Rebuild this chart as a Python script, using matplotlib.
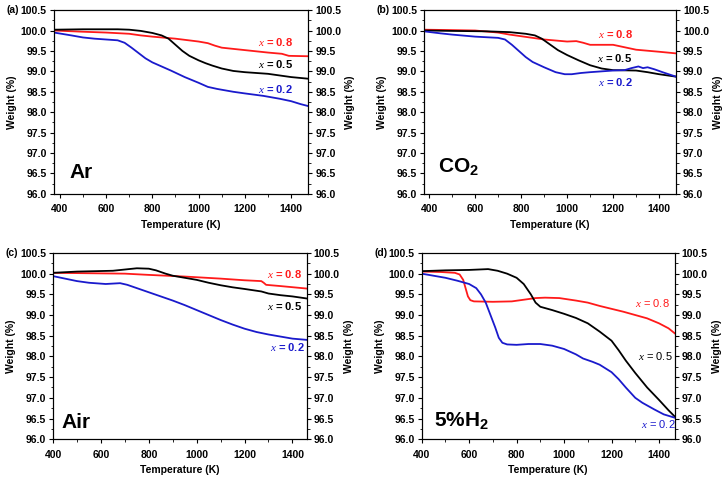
import numpy as np
import matplotlib

matplotlib.use("Agg")
import matplotlib.pyplot as plt
from matplotlib.ticker import MultipleLocator, FormatStrFormatter

plt.rcParams["font.family"] = ["Liberation Sans", "DejaVu Sans"]
plt.rcParams["mathtext.fontset"] = "custom"
plt.rcParams["mathtext.rm"] = "Liberation Sans"
plt.rcParams["mathtext.it"] = "Liberation Serif:italic"
plt.rcParams["mathtext.bf"] = "Liberation Sans:bold"

RED, BLACK, BLUE = "#ff1a1a", "#000000", "#1a1acc"

# ---------------------------------------------------------------- (a) Ar
ar_t08 = [375, 500, 600, 700, 750, 800, 900, 1000, 1040, 1070, 1100, 1150, 1200, 1300, 1360, 1390, 1474]
ar_w08 = [100.0, 99.97, 99.95, 99.92, 99.88, 99.85, 99.8, 99.73, 99.69, 99.63, 99.58, 99.55, 99.52, 99.46, 99.43, 99.38, 99.37]
ar_t05 = [375, 500, 650, 700, 750, 800, 840, 870, 900, 930, 960, 1000, 1030, 1060, 1100, 1150, 1200, 1300, 1400, 1474]
ar_w05 = [100.02, 100.03, 100.03, 100.02, 99.99, 99.94, 99.88, 99.8, 99.65, 99.5, 99.38, 99.27, 99.2, 99.14, 99.07, 99.01, 98.98, 98.94, 98.86, 98.82]
ar_t02 = [375, 450, 500, 550, 600, 650, 680, 710, 740, 770, 800, 840, 880, 940, 1000, 1040, 1080, 1150, 1200, 1280, 1350, 1400, 1440, 1474]
ar_w02 = [99.95, 99.88, 99.83, 99.8, 99.78, 99.76, 99.7, 99.58, 99.45, 99.32, 99.22, 99.12, 99.02, 98.86, 98.72, 98.62, 98.57, 98.5, 98.46, 98.4, 98.33, 98.27, 98.2, 98.15]

# ---------------------------------------------------------------- (b) CO2
co2_t08 = [377, 500, 600, 700, 750, 800, 900, 1000, 1040, 1070, 1100, 1200, 1250, 1300, 1400, 1474]
co2_w08 = [100.02, 100.01, 100.0, 99.95, 99.9, 99.86, 99.78, 99.73, 99.74, 99.7, 99.65, 99.65, 99.59, 99.53, 99.48, 99.44]
co2_t05 = [377, 500, 650, 750, 820, 860, 890, 920, 960, 1000, 1050, 1100, 1150, 1200, 1300, 1350, 1400, 1474]
co2_w05 = [100.0, 99.99, 99.98, 99.96, 99.92, 99.88, 99.8, 99.68, 99.52, 99.4, 99.27, 99.15, 99.07, 99.03, 99.02, 98.98, 98.93, 98.87]
co2_t02 = [377, 450, 500, 600, 700, 730, 760, 790, 820, 850, 900, 950, 990, 1020, 1060, 1100, 1150, 1200, 1250, 1280, 1310, 1330, 1350, 1380, 1420, 1474]
co2_w02 = [99.98, 99.93, 99.9, 99.85, 99.82, 99.78, 99.65, 99.5, 99.35, 99.23, 99.1, 98.98, 98.93, 98.93, 98.96, 98.98, 99.0, 99.02, 99.03, 99.08, 99.12, 99.08, 99.1, 99.05, 98.97, 98.87]

# ---------------------------------------------------------------- (c) Air
air_t08 = [400, 550, 700, 800, 950, 1100, 1200, 1270, 1280, 1290, 1350, 1460]
air_w08 = [100.02, 100.01, 100.0, 99.97, 99.93, 99.88, 99.84, 99.82, 99.78, 99.73, 99.7, 99.64]
air_t05 = [400, 500, 650, 700, 750, 800, 830, 870, 900, 950, 1000, 1050, 1100, 1150, 1200, 1270, 1300, 1350, 1400, 1460]
air_w05 = [100.02, 100.05, 100.07, 100.1, 100.13, 100.12, 100.08, 100.0, 99.95, 99.9, 99.85, 99.78, 99.72, 99.67, 99.63, 99.57, 99.52, 99.48, 99.45, 99.4]
air_t02 = [400, 450, 500, 550, 620, 680, 710, 750, 800, 850, 900, 950, 1000, 1050, 1100, 1150, 1200, 1250, 1300, 1350, 1400, 1460]
air_w02 = [99.94, 99.88, 99.82, 99.78, 99.75, 99.77, 99.73, 99.65, 99.55, 99.45, 99.35, 99.24, 99.12, 99.0, 98.88, 98.77, 98.67, 98.59, 98.53, 98.48, 98.43, 98.4]

# ---------------------------------------------------------------- (d) 5%H2
h2_t08 = [400, 480, 540, 560, 575, 585, 595, 605, 620, 700, 780, 830, 880, 920, 980, 1050, 1100, 1150, 1200, 1250, 1300, 1350, 1400, 1440, 1466]
h2_w08 = [100.05, 100.04, 100.02, 99.98, 99.85, 99.65, 99.45, 99.36, 99.33, 99.32, 99.33, 99.37, 99.41, 99.42, 99.41, 99.35, 99.3, 99.22, 99.15, 99.08, 99.0, 98.92, 98.8, 98.68, 98.56]
h2_t05 = [400, 500, 600, 680, 720, 760, 800, 830, 860, 880, 900, 950, 1000, 1050, 1100, 1150, 1200, 1230, 1260, 1300, 1350, 1400, 1440, 1466]
h2_w05 = [100.06, 100.08, 100.09, 100.11, 100.07, 100.0, 99.9, 99.75, 99.5, 99.3, 99.2, 99.12, 99.03, 98.93, 98.8, 98.6, 98.38, 98.15, 97.9, 97.6, 97.25, 96.95, 96.7, 96.55]
h2_t02 = [400, 450, 500, 550, 600, 630, 650, 670, 690, 710, 725, 740, 760, 800, 850, 900, 950, 1000, 1050, 1080, 1120, 1150, 1200, 1230, 1260, 1300, 1330, 1380, 1420, 1466]
h2_w02 = [100.0, 99.95, 99.9, 99.83, 99.75, 99.65, 99.5, 99.3, 99.0, 98.7, 98.45, 98.33, 98.29, 98.28, 98.3, 98.3, 98.26, 98.18, 98.05, 97.95, 97.87, 97.8, 97.62, 97.45, 97.25, 97.0, 96.88, 96.72, 96.6, 96.52]

x_values = ["0.8", "0.5", "0.2"]

panels = [
    dict(tag="(a)", gas="Ar", gas_pos=(0.06, 0.115), xlim=(374, 1474), rect=[0.074, 0.596, 0.350, 0.383],
         series=[(ar_t08, ar_w08, RED), (ar_t05, ar_w05, BLACK), (ar_t02, ar_w02, BLUE)],
         labels=[(1257, 99.73), (1257, 99.18), (1257, 98.56)], bold=True),
    dict(tag="(b)", gas=r"CO$_\mathbf{2}$", gas_pos=(0.055, 0.15), xlim=(377, 1474), rect=[0.583, 0.596, 0.347, 0.383],
         series=[(co2_t08, co2_w08, RED), (co2_t05, co2_w05, BLACK), (co2_t02, co2_w02, BLUE)],
         labels=[(1134, 99.91), (1130, 99.33), (1134, 98.75)], bold=True),
    dict(tag="(c)", gas="Air", gas_pos=(0.035, 0.09), xlim=(400, 1460), rect=[0.073, 0.085, 0.349, 0.388],
         series=[(air_t08, air_w08, RED), (air_t05, air_w05, BLACK), (air_t02, air_w02, BLUE)],
         labels=[(1295, 99.99), (1295, 99.23), (1305, 98.22)], bold=True),
    dict(tag="(d)", gas=r"5%H$_\mathbf{2}$", gas_pos=(0.05, 0.10), xlim=(400, 1466), rect=[0.580, 0.085, 0.348, 0.388],
         series=[(h2_t08, h2_w08, RED), (h2_t05, h2_w05, BLACK), (h2_t02, h2_w02, BLUE)],
         labels=[(1297, 99.29), (1312, 98.02), (1326, 96.37)], bold=False),
]

fig = plt.figure(figsize=(7.27, 4.80), dpi=100)
FS = 7.5


def style_y(a):
    a.set_ylim(96.0, 100.5)
    a.yaxis.set_major_locator(MultipleLocator(0.5))
    a.yaxis.set_minor_locator(MultipleLocator(0.25))
    a.yaxis.set_major_formatter(FormatStrFormatter("%.1f"))
    a.set_ylabel("Weight (%)", fontsize=FS, fontweight="bold", labelpad=3)
    a.tick_params(which="major", direction="out", length=3, width=0.8, labelsize=FS, pad=2)
    a.tick_params(which="minor", direction="out", length=1.8, width=0.6)


for p in panels:
    ax = fig.add_axes(p["rect"])
    for (t, w, c) in p["series"]:
        ax.plot(t, w, color=c, lw=1.3)
    for (lx, ly), xv, (_, _, c) in zip(p["labels"], x_values, p["series"]):
        ax.text(lx, ly, r"$x$ = " + xv, color=c, fontsize=FS + 0.5,
                fontweight="bold" if p["bold"] else "normal", va="center")
    ax.text(*p["gas_pos"], p["gas"], transform=ax.transAxes,
            fontsize=15, fontweight="bold", va="center", ha="left")
    ax.set_xlim(*p["xlim"])
    ax.xaxis.set_major_locator(MultipleLocator(200))
    ax.xaxis.set_minor_locator(MultipleLocator(100))
    style_y(ax)
    ax.tick_params(axis="x", which="major", pad=4.5)
    ax.set_xlabel("Temperature (K)", fontsize=FS, fontweight="bold", labelpad=4)
    for lab in ax.get_xticklabels() + ax.get_yticklabels():
        lab.set_fontweight("bold")

    ax2 = ax.twinx()
    style_y(ax2)
    for lab in ax2.get_yticklabels():
        lab.set_fontweight("bold")

    x0, y0, w, h = p["rect"]
    fig.text(x0 - 0.065, y0 + h, p["tag"], fontsize=FS, fontweight="bold", va="center", ha="left")

fig.savefig("out.png", dpi=100)
